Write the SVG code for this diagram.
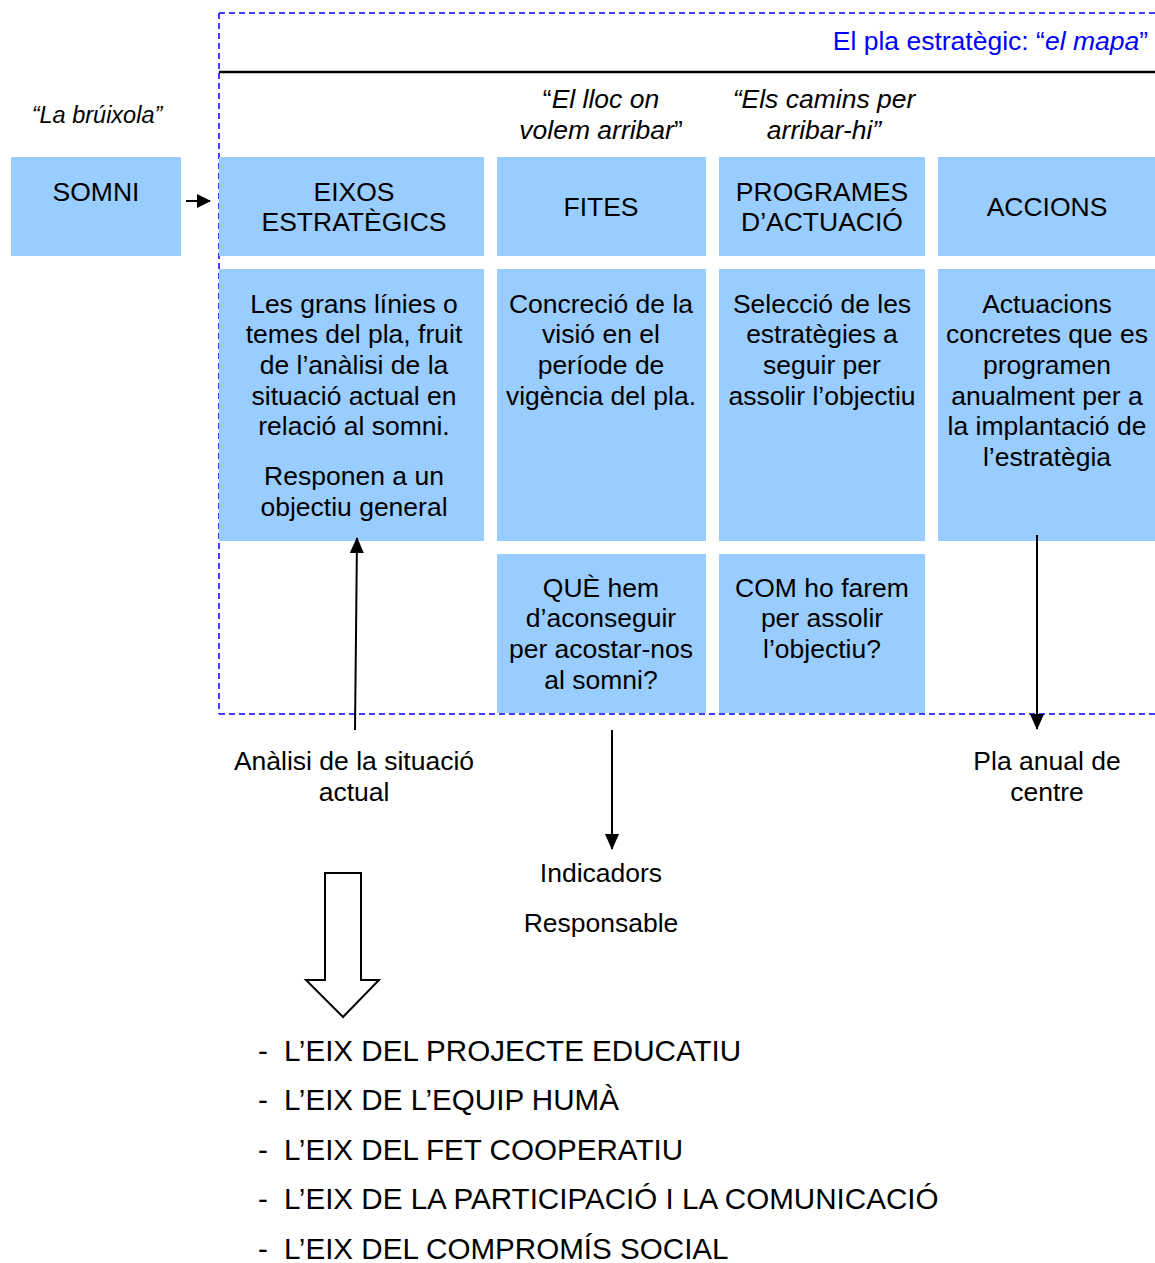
<svg xmlns="http://www.w3.org/2000/svg" width="1155" height="1263" viewBox="0 0 1155 1263">
<style>
.box{fill:#99CCFF}
text{font-family:"Liberation Sans",Arial,sans-serif;font-size:26.5px;fill:#000;text-anchor:middle}
.it{font-style:italic}
.list{font-size:29.6px;text-anchor:start}
.blue{fill:#0000FF}
.dash{stroke:#0000FF;stroke-width:1.5;stroke-dasharray:6 4;fill:none}
.conn{stroke:#000;stroke-width:2;fill:none}
</style>
<defs>
<marker id="ah" markerWidth="14" markerHeight="14" refX="13" refY="7" orient="auto" markerUnits="userSpaceOnUse" viewBox="0 0 14 14">
<path d="M0,0 L14,7 L0,14 Z" fill="#000"/>
</marker>
<marker id="ahL" markerWidth="16" markerHeight="14" refX="15" refY="7" orient="auto" markerUnits="userSpaceOnUse" viewBox="0 0 16 14">
<path d="M0,0 L16,7 L0,14 Z" fill="#000"/>
</marker>
</defs>

<g id="frame">
<line class="dash" x1="219" y1="13" x2="1155" y2="13"/>
<line class="dash" x1="219" y1="13" x2="219" y2="714"/>
<line class="dash" x1="219" y1="714" x2="1155" y2="714"/>
<line x1="219" y1="72" x2="1155" y2="72" stroke="#000" stroke-width="2.5"/>
<text class="blue" x="1148" y="50" style="text-anchor:end">El pla estratègic: “<tspan class="it">el mapa</tspan>”</text>
</g>

<g id="quotes">
<text class="it" x="97" y="123" style="font-size:23.5px">“La brúixola”</text>
<text x="601" y="108"><tspan>“</tspan><tspan class="it">El lloc on</tspan></text>
<text x="601" y="139"><tspan class="it">volem arribar</tspan><tspan>”</tspan></text>
<text class="it" x="824" y="108">“Els camins per</text>
<text class="it" x="824" y="139">arribar-hi”</text>
</g>

<g id="somni">
<rect class="box" x="11" y="157" width="170" height="99"/>
<text x="96" y="201">SOMNI</text>
</g>

<g id="eixos">
<rect class="box" x="219" y="157" width="265" height="99"/>
<text x="354" y="201">EIXOS</text>
<text x="354" y="231">ESTRATÈGICS</text>
</g>
<g id="fites">
<rect class="box" x="497" y="157" width="209" height="99"/>
<text x="601" y="216">FITES</text>
</g>
<g id="programes">
<rect class="box" x="719" y="157" width="206" height="99"/>
<text x="822" y="201">PROGRAMES</text>
<text x="822" y="231">D’ACTUACIÓ</text>
</g>
<g id="accions">
<rect class="box" x="938" y="157" width="217" height="99"/>
<text x="1047" y="216">ACCIONS</text>
</g>

<g id="eixos-desc">
<rect class="box" x="219" y="269" width="265" height="272"/>
<text x="354" y="313">Les grans línies o</text>
<text x="354" y="343">temes del pla, fruit</text>
<text x="354" y="374">de l’anàlisi de la</text>
<text x="354" y="405">situació actual en</text>
<text x="354" y="435">relació al somni.</text>
<text x="354" y="485">Responen a un</text>
<text x="354" y="516">objectiu general</text>
</g>
<g id="fites-desc">
<rect class="box" x="497" y="269" width="209" height="272"/>
<text x="601" y="313">Concreció de la</text>
<text x="601" y="343">visió en el</text>
<text x="601" y="374">període de</text>
<text x="601" y="405">vigència del pla.</text>
</g>
<g id="programes-desc">
<rect class="box" x="719" y="269" width="206" height="272"/>
<text x="822" y="313">Selecció de les</text>
<text x="822" y="343">estratègies a</text>
<text x="822" y="374">seguir per</text>
<text x="822" y="405">assolir l’objectiu</text>
</g>
<g id="accions-desc">
<rect class="box" x="938" y="269" width="217" height="272"/>
<text x="1047" y="313">Actuacions</text>
<text x="1047" y="343">concretes que es</text>
<text x="1047" y="374">programen</text>
<text x="1047" y="405">anualment per a</text>
<text x="1047" y="435">la implantació de</text>
<text x="1047" y="466">l’estratègia</text>
</g>

<g id="fites-que">
<rect class="box" x="497" y="554" width="209" height="159"/>
<text x="601" y="597">QUÈ hem</text>
<text x="601" y="627">d’aconseguir</text>
<text x="601" y="658">per acostar-nos</text>
<text x="601" y="689">al somni?</text>
</g>
<g id="programes-com">
<rect class="box" x="719" y="554" width="206" height="159"/>
<text x="822" y="597">COM ho farem</text>
<text x="822" y="627">per assolir</text>
<text x="822" y="658">l’objectiu?</text>
</g>

<g id="analisi">
<text x="354" y="770">Anàlisi de la situació</text>
<text x="354" y="801">actual</text>
</g>
<g id="pla-anual">
<text x="1047" y="770">Pla anual de</text>
<text x="1047" y="801">centre</text>
</g>
<g id="indicadors">
<text x="601" y="882">Indicadors</text>
<text x="601" y="932">Responsable</text>
</g>

<g id="connectors">
<line class="conn" x1="186" y1="201" x2="210" y2="201" marker-end="url(#ah)"/>
<line class="conn" x1="355" y1="730" x2="357" y2="538" marker-end="url(#ahL)"/>
<line class="conn" x1="612" y1="730" x2="612" y2="849" marker-end="url(#ahL)"/>
<line class="conn" x1="1037" y1="535" x2="1037" y2="729" marker-end="url(#ahL)"/>
</g>

<g id="big-arrow">
<path d="M325,873 L361,873 L361,980 L379,980 L343,1017 L306,980 L325,980 Z" fill="#fff" stroke="#000" stroke-width="2"/>
</g>

<g id="list">
<text class="list" x="258" y="1061">-</text><text class="list" x="284" y="1061">L’EIX DEL PROJECTE EDUCATIU</text>
<text class="list" x="258" y="1110">-</text><text class="list" x="284" y="1110">L’EIX DE L’EQUIP HUMÀ</text>
<text class="list" x="258" y="1160">-</text><text class="list" x="284" y="1160">L’EIX DEL FET COOPERATIU</text>
<text class="list" x="258" y="1209">-</text><text class="list" x="284" y="1209">L’EIX DE LA PARTICIPACIÓ I LA COMUNICACIÓ</text>
<text class="list" x="258" y="1259">-</text><text class="list" x="284" y="1259">L’EIX DEL COMPROMÍS SOCIAL</text>
</g>
</svg>
